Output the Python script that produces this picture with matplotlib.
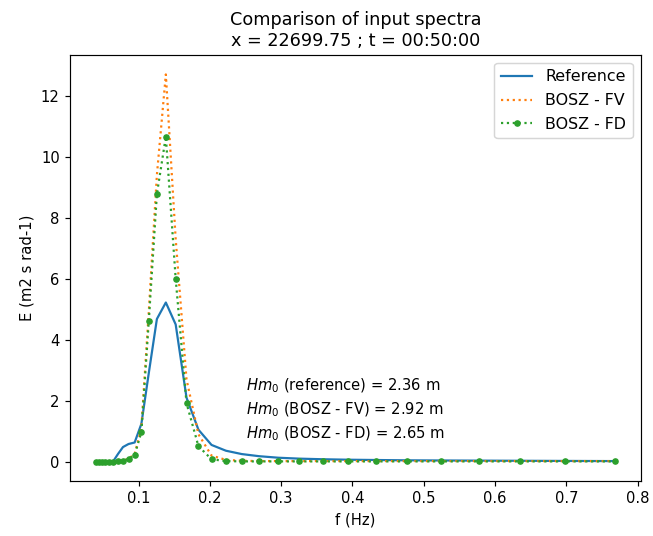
import numpy as np
import matplotlib
matplotlib.use("Agg")
import matplotlib.pyplot as plt

# frequencies (Hz)
freq = [0.04, 0.044, 0.0484, 0.05324, 0.05856, 0.06442, 0.07086, 0.07795,
        0.08574, 0.09432, 0.10375, 0.11412, 0.12554, 0.13809, 0.1519, 0.16709,
        0.1838, 0.20218, 0.2224, 0.24464, 0.2691, 0.29601, 0.32561, 0.35817,
        0.39399, 0.43339, 0.47673, 0.5244, 0.57684, 0.63452, 0.69797, 0.76777]

# spectra (m2 s rad-1)
E_ref = [0.0, 0.0, 0.0, 0.0, 0.0, 0.02, 0.25, 0.48,
         0.58, 0.63, 1.24, 2.9, 4.68, 5.22, 4.5, 2.1,
         1.05, 0.55, 0.36, 0.25, 0.18, 0.13, 0.10, 0.08,
         0.065, 0.055, 0.045, 0.04, 0.035, 0.03, 0.025, 0.02]
E_fv = [0.0, 0.0, 0.0, 0.0, 0.0, 0.0, 0.01, 0.03,
        0.1, 0.25, 1.1, 4.9, 9.4, 12.7, 7.3, 2.7,
        0.9, 0.2, 0.06, 0.03, 0.02, 0.02, 0.02, 0.02,
        0.02, 0.02, 0.02, 0.02, 0.02, 0.02, 0.02, 0.02]
E_fd = [0.0, 0.0, 0.0, 0.0, 0.0, 0.0, 0.01, 0.03,
        0.09, 0.22, 0.97, 4.6, 8.78, 10.66, 6.0, 1.92,
        0.51, 0.08, 0.02, 0.01, 0.01, 0.01, 0.01, 0.01,
        0.01, 0.01, 0.01, 0.01, 0.01, 0.01, 0.01, 0.01]

labels = ["Reference", "BOSZ - FV", "BOSZ - FD"]
hm0 = [2.36, 2.92, 2.65]
title = "Comparison of input spectra\nx = 22699.75 ; t = 00:50:00"

dpi = 106
fig = plt.figure(figsize=(653 / dpi, 536 / dpi), dpi=dpi)
ax = fig.add_axes([0.1072, 0.1025, 0.8737, 0.7948])

ax.plot(freq, E_ref, "-", label=labels[0])
ax.plot(freq, E_fv, ":", label=labels[1])
ax.plot(freq, E_fd, ":", marker="o", markersize=3.5, label=labels[2])

ax.text(0.25, 2.49, "$Hm_0$ (reference) = %.2f m" % hm0[0], va="center")
ax.text(0.25, 1.70, "$Hm_0$ (BOSZ - FV) = %.2f m" % hm0[1], va="center")
ax.text(0.25, 0.92, "$Hm_0$ (BOSZ - FD) = %.2f m" % hm0[2], va="center")

ax.set_xlabel("f (Hz)")
ax.set_ylabel("E (m2 s rad-1)")
ax.set_title(title)
ax.legend(loc="upper right", fontsize=10.8, labelspacing=0.55)

fig.savefig("out.png", dpi=dpi)
